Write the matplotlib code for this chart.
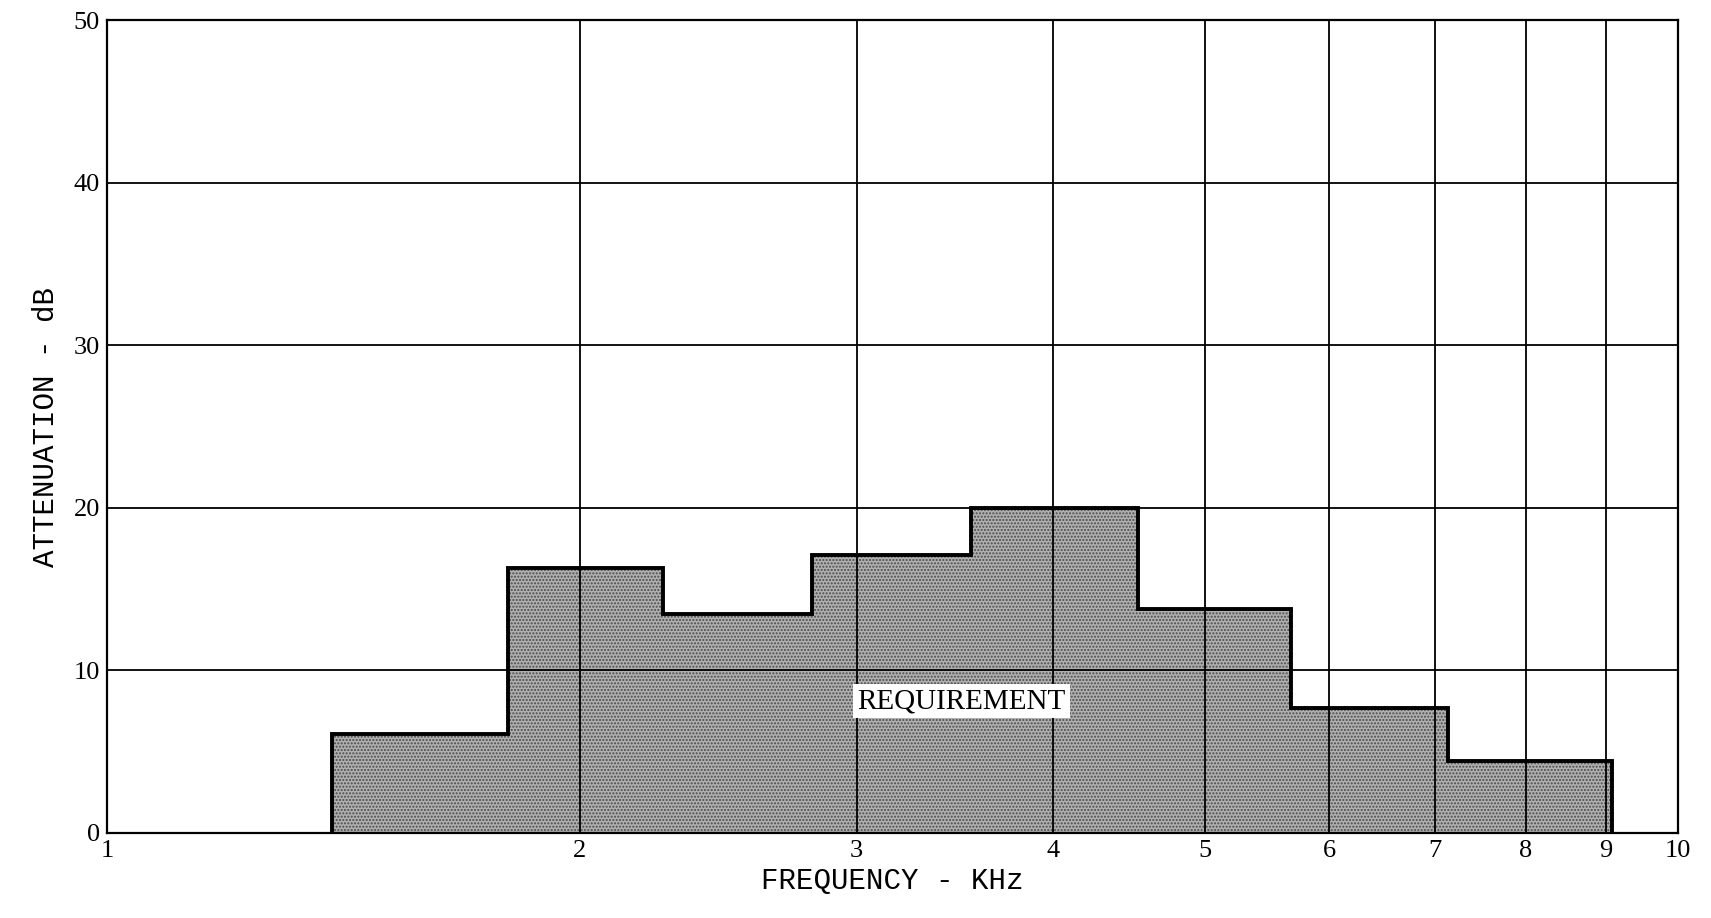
import matplotlib.pyplot as plt
import numpy as np

# 밴드 경계 (kHz)와 감쇠량 (dB)
band_edges = [1.39, 1.80, 2.26, 2.81, 3.55, 4.53, 5.67, 7.14, 9.08]
attenuation = [6.1, 16.3, 13.5, 17.1, 20.0, 13.8, 7.7, 4.4]

x_ticks = [1, 2, 3, 4, 5, 6, 7, 8, 9, 10]
x_tick_labels = ['1', '2', '3', '4', '5', '6', '7', '8', '9', '10']
y_ticks = [0, 10, 20, 30, 40, 50]

mono = 'Liberation Mono'
serif = 'Liberation Serif'

plt.rcParams['hatch.linewidth'] = 1.0

fig = plt.figure(figsize=(17.11, 9.18), dpi=100)
ax = fig.add_axes([0.0625, 0.0926, 0.9182, 0.8854])

# 채워진 요구 영역 (회색 점무늬)
ax.stairs(attenuation, band_edges, baseline=0, fill=True,
          facecolor='#b0b0b0', edgecolor='#4a4a4a', hatch='.....',
          linewidth=0, zorder=1)
# 외곽선
ax.stairs(attenuation, band_edges, baseline=0, fill=False,
          color='black', linewidth=2.8, zorder=3)

ax.set_xscale('log')
ax.set_xlim(1, 10)
ax.set_ylim(0, 50)
ax.set_xticks(x_ticks)
ax.set_xticklabels(x_tick_labels, fontfamily=serif, fontsize=19)
ax.xaxis.set_minor_locator(plt.NullLocator())
ax.set_yticks(y_ticks)
ax.set_yticklabels([str(v) for v in y_ticks], fontfamily=serif, fontsize=19)
ax.tick_params(length=0, pad=5)

ax.set_axisbelow(False)
ax.grid(True, color='black', linewidth=1.3)
for s in ax.spines.values():
    s.set_linewidth(1.6)

ax.set_xlabel('FREQUENCY - KHz', fontfamily=mono, fontsize=21, labelpad=4)
ax.set_ylabel('ATTENUATION - dB', fontfamily=mono, fontsize=21, labelpad=10)

ax.text(3.5, 8.1, 'REQUIREMENT', fontfamily=serif, fontsize=21,
        ha='center', va='center', zorder=4,
        bbox=dict(facecolor='white', edgecolor='none', pad=3))

fig.savefig('out.png', dpi=100)
